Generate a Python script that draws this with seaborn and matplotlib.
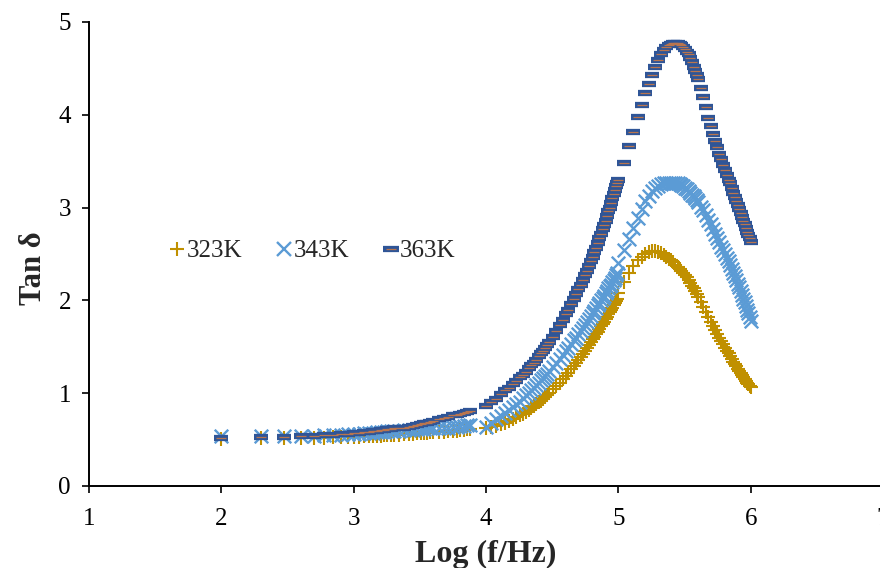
import matplotlib
matplotlib.use("Agg")
import matplotlib.pyplot as plt
from matplotlib.lines import Line2D
import numpy as np
import pandas as pd
import seaborn as sns

# Measurement frequencies in kHz (three sweep ranges of the analyser)
freq_khz = [
    0.1, 0.2, 0.3, 0.4, 0.5, 0.6, 0.7, 0.8, 0.9, 1.0,
    1.1, 1.2, 1.3, 1.4, 1.5, 1.6, 1.7, 1.8, 1.9, 2.0,
    2.2, 2.4, 2.6, 2.8, 3.0, 3.2, 3.4, 3.6, 3.8, 4.0,
    4.4, 4.8, 5.2, 5.6, 6.0, 6.4, 6.8, 7.2, 7.6,
    10, 11, 12, 13, 14, 15, 16, 17, 18, 19,
    20, 21, 22, 23, 24, 25, 26, 27, 28, 29,
    30, 32, 34, 36, 38, 40, 42, 44, 46, 48,
    50, 52, 54, 56, 58, 60, 62, 64, 66, 68,
    70, 72, 74, 76, 78, 80, 82, 84, 86, 88,
    90, 92, 94, 96, 98,
    100, 110, 120, 130, 140, 150, 160, 170, 180, 190,
    200, 210, 220, 230, 240, 250, 260, 270, 280,
    290, 300, 310, 320, 330, 340, 350, 360, 370, 380, 390, 400,
    420, 440, 460, 480, 500, 520, 540, 560, 580, 600,
    620, 640, 660, 680, 700, 720, 740, 760, 780, 800,
    820, 840, 860, 880, 900, 920, 940, 960, 980, 1000,
]

tan_323K = [
    0.51, 0.52, 0.52, 0.52, 0.52, 0.52, 0.53, 0.53, 0.53, 0.53,
    0.53, 0.54, 0.54, 0.54, 0.54, 0.54, 0.55, 0.55, 0.55, 0.55,
    0.55, 0.56, 0.56, 0.56, 0.57, 0.57, 0.57, 0.57, 0.58, 0.58,
    0.58, 0.58, 0.59, 0.59, 0.59, 0.60, 0.60, 0.61, 0.61,
    0.63, 0.64, 0.65, 0.67, 0.68, 0.70, 0.72, 0.74, 0.76, 0.78,
    0.80, 0.82, 0.84, 0.86, 0.88, 0.90, 0.92, 0.94, 0.96, 0.98,
    1.00, 1.04, 1.08, 1.11, 1.15, 1.19, 1.22, 1.26, 1.29, 1.33,
    1.36, 1.39, 1.42, 1.46, 1.49, 1.52, 1.55, 1.58, 1.61, 1.64,
    1.66, 1.69, 1.72, 1.75, 1.77, 1.80, 1.82, 1.85, 1.87, 1.90,
    1.92, 1.95, 1.97, 1.99, 2.02,
    2.08, 2.20, 2.30, 2.37, 2.43, 2.47, 2.50, 2.52, 2.53, 2.53,
    2.52, 2.51, 2.49, 2.47, 2.45, 2.43, 2.41, 2.38, 2.36,
    2.34, 2.32, 2.30, 2.27, 2.25, 2.22, 2.19, 2.16, 2.13, 2.10, 2.07, 2.04,
    1.98, 1.93, 1.87, 1.82, 1.77, 1.72, 1.68, 1.64, 1.60, 1.56,
    1.53, 1.49, 1.46, 1.43, 1.40, 1.37, 1.34, 1.31, 1.29, 1.26,
    1.24, 1.22, 1.20, 1.17, 1.15, 1.13, 1.11, 1.10, 1.08, 1.07,
]

tan_343K = [
    0.54, 0.54, 0.54, 0.54, 0.54, 0.55, 0.55, 0.55, 0.56, 0.56,
    0.56, 0.57, 0.57, 0.57, 0.58, 0.58, 0.58, 0.59, 0.59, 0.59,
    0.59, 0.60, 0.60, 0.60, 0.61, 0.61, 0.61, 0.62, 0.62, 0.62,
    0.62, 0.63, 0.63, 0.64, 0.64, 0.65, 0.65, 0.66, 0.66,
    0.64, 0.68, 0.72, 0.75, 0.79, 0.82, 0.85, 0.88, 0.91, 0.95,
    0.98, 1.00, 1.03, 1.06, 1.09, 1.11, 1.14, 1.16, 1.19, 1.21,
    1.24, 1.28, 1.33, 1.37, 1.41, 1.45, 1.49, 1.53, 1.57, 1.60,
    1.64, 1.67, 1.70, 1.74, 1.77, 1.80, 1.83, 1.86, 1.89, 1.92,
    1.95, 1.97, 2.00, 2.03, 2.05, 2.08, 2.10, 2.13, 2.15, 2.17,
    2.20, 2.22, 2.24, 2.27, 2.29,
    2.40, 2.54, 2.66, 2.78, 2.89, 2.99, 3.07, 3.13, 3.18, 3.21,
    3.23, 3.25, 3.26, 3.27, 3.27, 3.27, 3.27, 3.27, 3.26,
    3.25, 3.24, 3.23, 3.21, 3.20, 3.18, 3.16, 3.14, 3.12, 3.10, 3.08, 3.06,
    3.01, 2.97, 2.92, 2.87, 2.82, 2.77, 2.72, 2.67, 2.63, 2.58,
    2.54, 2.50, 2.46, 2.42, 2.38, 2.34, 2.30, 2.26, 2.22, 2.18,
    2.14, 2.10, 2.06, 2.02, 1.98, 1.94, 1.90, 1.86, 1.82, 1.78,
]

tan_363K = [
    0.52, 0.53, 0.53, 0.54, 0.54, 0.55, 0.55, 0.56, 0.56, 0.57,
    0.57, 0.58, 0.58, 0.59, 0.59, 0.60, 0.60, 0.61, 0.61, 0.62,
    0.63, 0.63, 0.64, 0.65, 0.66, 0.67, 0.68, 0.68, 0.69, 0.70,
    0.72, 0.73, 0.74, 0.76, 0.77, 0.78, 0.79, 0.80, 0.81,
    0.86, 0.90, 0.94, 0.99, 1.03, 1.06, 1.10, 1.13, 1.17, 1.20,
    1.23, 1.27, 1.30, 1.33, 1.36, 1.40, 1.43, 1.46, 1.49, 1.52,
    1.55, 1.61, 1.67, 1.73, 1.79, 1.85, 1.90, 1.96, 2.02, 2.07,
    2.12, 2.17, 2.22, 2.27, 2.32, 2.37, 2.42, 2.47, 2.52, 2.57,
    2.62, 2.67, 2.72, 2.77, 2.81, 2.86, 2.91, 2.96, 3.00, 3.05,
    3.10, 3.15, 3.19, 3.23, 3.27,
    3.30, 3.48, 3.66, 3.82, 3.98, 4.11, 4.23, 4.33, 4.43, 4.52,
    4.59, 4.65, 4.70, 4.73, 4.75, 4.76, 4.77, 4.77, 4.77,
    4.76, 4.75, 4.73, 4.71, 4.68, 4.65, 4.61, 4.57, 4.52, 4.47, 4.43, 4.39,
    4.29, 4.19, 4.08, 3.97, 3.88, 3.79, 3.72, 3.65, 3.58, 3.52,
    3.46, 3.41, 3.35, 3.30, 3.26, 3.21, 3.16, 3.11, 3.07, 3.03,
    2.98, 2.94, 2.90, 2.86, 2.82, 2.78, 2.74, 2.70, 2.67, 2.63,
]

temperatures = ["323K", "343K", "363K"]
x_ticks = [1, 2, 3, 4, 5, 6, 7]
y_ticks = [0, 1, 2, 3, 4, 5]

GOLD = "#C09000"
LIGHT_BLUE = "#5B9BD5"
DARK_BLUE = "#2F5597"
DASH_CORE = "#B9754E"

sns.set_theme(style="white")
plt.rcParams["font.family"] = ["Liberation Serif", "DejaVu Serif"]

df = pd.DataFrame({
    "logf": np.log10(np.array(freq_khz) * 1000.0),
    "323K": tan_323K,
    "343K": tan_343K,
    "363K": tan_363K,
})

fig = plt.figure(figsize=(8.8, 5.68), dpi=100)
ax = fig.add_axes([89 / 880, 82 / 568, 794 / 880, 464 / 568])

sns.scatterplot(data=df, x="logf", y="323K", marker="+", s=100, linewidth=1.5,
                color=GOLD, ax=ax, legend=False, zorder=3)
sns.scatterplot(data=df, x="logf", y="343K", marker="x", s=95, linewidth=1.7,
                color=LIGHT_BLUE, ax=ax, legend=False, zorder=4)
sns.scatterplot(data=df, x="logf", y="363K", marker="_", s=115, linewidth=4.5,
                color=DARK_BLUE, ax=ax, legend=False, zorder=5)
sns.scatterplot(data=df, x="logf", y="363K", marker="_", s=48, linewidth=0.9,
                color=DASH_CORE, ax=ax, legend=False, zorder=6)

ax.set_xlim(1, 7)
ax.set_ylim(0, 5)
ax.set_xticks(x_ticks)
ax.set_yticks(y_ticks)
ax.tick_params(axis="both", direction="out", length=5, width=1.2, colors="black",
               labelsize=18, left=True, bottom=True)
ax.tick_params(axis="x", pad=11)
ax.tick_params(axis="y", pad=8)
for side in ("top", "right"):
    ax.spines[side].set_visible(False)
for side in ("left", "bottom"):
    ax.spines[side].set_color("black")
    ax.spines[side].set_linewidth(1.4)

ax.set_xlabel("Log (f/Hz)", fontsize=23, fontweight="bold", labelpad=7)
ax.set_ylabel("Tan δ", fontsize=22, fontweight="bold")
ax.yaxis.set_label_coords(-0.052, 0.47)

handles = [
    Line2D([], [], ls="none", marker="+", color=GOLD, ms=10, mew=1.5),
    Line2D([], [], ls="none", marker="x", color=LIGHT_BLUE, ms=9.5, mew=1.7),
    (Line2D([], [], ls="none", marker="_", color=DARK_BLUE, ms=11.5, mew=4.5),
     Line2D([], [], ls="none", marker="_", color=DASH_CORE, ms=7.5, mew=0.9)),
]
ax.legend(handles, temperatures, loc="center left", bbox_to_anchor=(0.085, 0.506),
          ncol=3, frameon=False, fontsize=18, handlelength=0.85, handletextpad=-0.05,
          columnspacing=1.25, borderaxespad=0)

fig.savefig("out.png", dpi=100)
